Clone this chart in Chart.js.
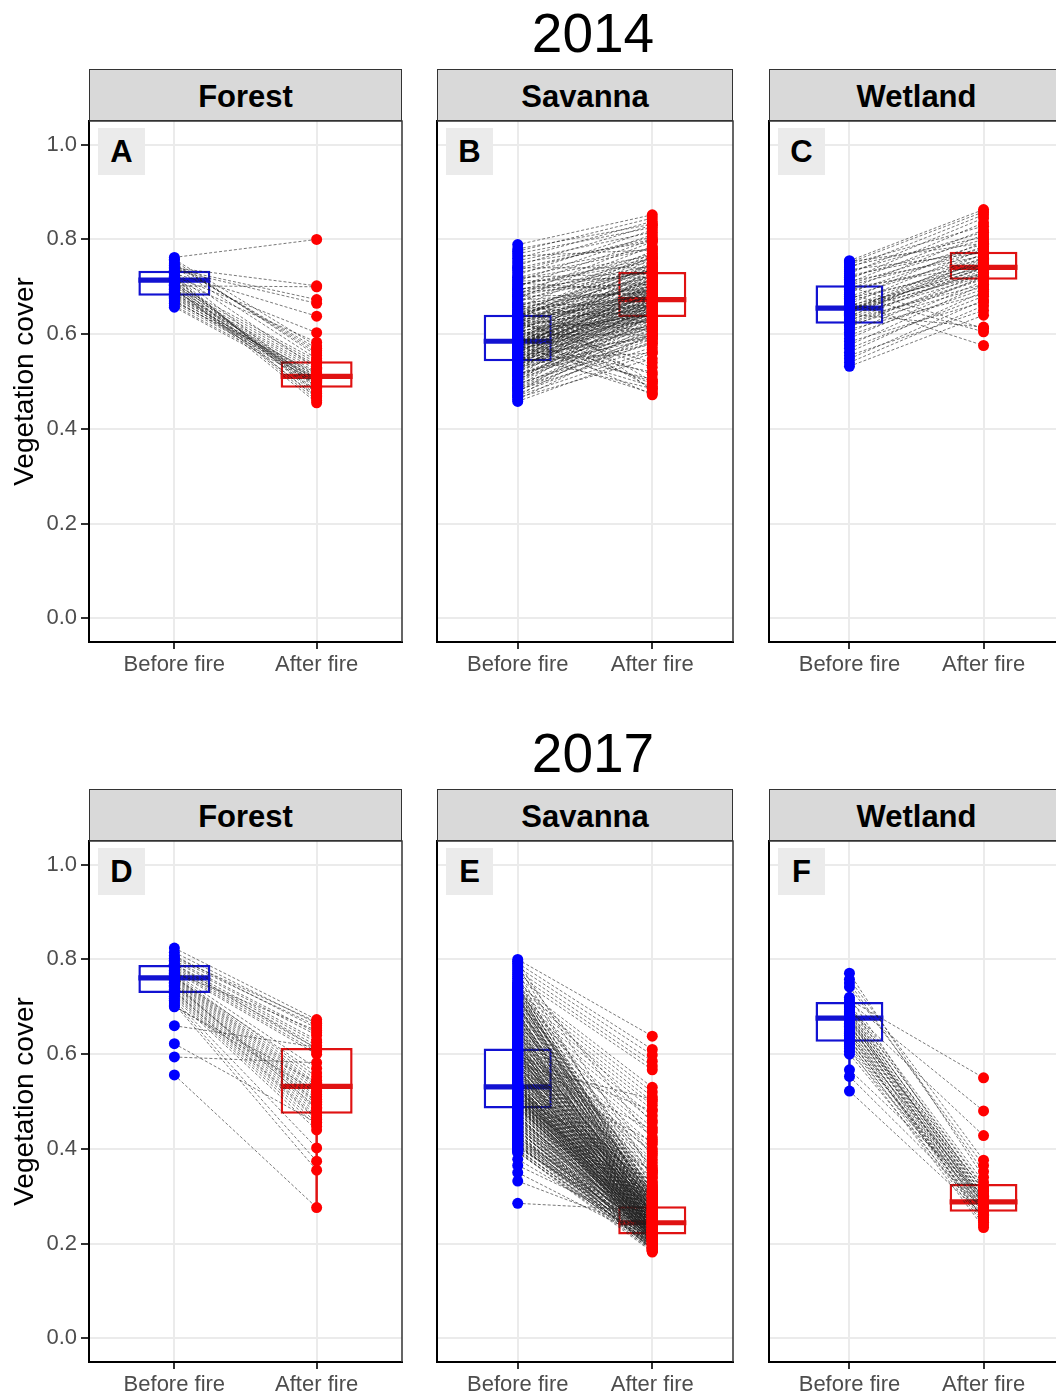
<!DOCTYPE html>
<html>
<head>
<meta charset="utf-8">
<script src="https://cdn.jsdelivr.net/npm/chart.js@4.4.1/dist/chart.umd.min.js"></script>
<style>
  body { margin: 0; width: 1056px; height: 1396px; overflow: hidden; background: #fff;
         font-family: "Liberation Sans", Arial, Helvetica, sans-serif; position: relative; }
  .year { position: absolute; width: 300px; text-align: center; font-size: 55px; line-height: 55px; color: #000; }
  .strip { position: absolute; height: 52px; box-sizing: border-box; border: 1.5px solid #333;
           background: #d9d9d9; display: flex; align-items: center; justify-content: center;
           padding-top: 3px; font-weight: bold; font-size: 31px; color: #000; }
  .tag { position: absolute; width: 47px; height: 47px; background: #ebebeb; display: flex;
         align-items: center; justify-content: center; font-weight: bold; font-size: 31px; color: #000; }
  canvas { position: absolute; }
</style>
</head>
<body>
<script>
// ---- data ----
const categories = ['Before fire', 'After fire'];
const yTicks = [0, 0.2, 0.4, 0.6, 0.8, 1.0];
const years = ['2014', '2017'];
const habitats = ['Forest', 'Savanna', 'Wetland'];
const tags = ['A', 'B', 'C', 'D', 'E', 'F'];

// each pair: [before fire, after fire] for one site
const forest2014 = [
  [0.762,0.800],[0.740,0.702],[0.702,0.700],[0.738,0.673],[0.735,0.665],[0.728,0.638],[0.722,0.603],[0.715,0.583],[0.745,0.570],[0.750,0.560],
  [0.755,0.555],[0.705,0.545],[0.700,0.540],[0.695,0.535],[0.690,0.530],[0.688,0.525],[0.685,0.520],[0.680,0.515],[0.675,0.512],[0.670,0.508],
  [0.665,0.505],[0.660,0.500],[0.657,0.495],[0.710,0.490],[0.712,0.485],[0.718,0.480],[0.720,0.475],[0.725,0.470],[0.708,0.465],[0.703,0.460],
  [0.698,0.455],[0.693,0.510],[0.683,0.506],[0.678,0.502],[0.672,0.498],[0.668,0.518],[0.732,0.528],[0.742,0.548],[0.748,0.565],[0.758,0.575],
  [0.730,0.492],[0.716,0.488],[0.706,0.478],[0.696,0.468],[0.686,0.503]
];
const savanna2014 = [
  [0.458,0.560],[0.462,0.600],[0.466,0.548],[0.470,0.620],[0.474,0.585],[0.478,0.640],[0.482,0.572],[0.486,0.610],[0.490,0.655],[0.494,0.595],
  [0.498,0.630],[0.502,0.668],[0.505,0.605],[0.508,0.645],[0.511,0.690],[0.514,0.625],[0.517,0.580],[0.520,0.660],[0.522,0.700],[0.524,0.615],
  [0.526,0.648],[0.528,0.675],[0.530,0.590],[0.532,0.712],[0.534,0.635],[0.536,0.665],[0.538,0.598],[0.540,0.680],[0.541,0.638],[0.542,0.720],
  [0.543,0.652],[0.544,0.612],[0.545,0.670],
  [0.546,0.642],[0.548,0.690],[0.550,0.628],[0.551,0.705],[0.553,0.660],[0.554,0.485],[0.556,0.676],[0.557,0.650],[0.559,0.730],[0.560,0.618],
  [0.562,0.695],[0.563,0.662],[0.565,0.475],[0.566,0.740],[0.568,0.640],[0.569,0.684],[0.570,0.655],[0.572,0.505],[0.573,0.712],[0.574,0.670],
  [0.575,0.632],[0.576,0.698],[0.577,0.745],[0.578,0.660],[0.579,0.520],[0.580,0.685],[0.581,0.650],[0.582,0.722],[0.583,0.676],[0.584,0.640],
  [0.584,0.700],[0.585,0.664],[0.585,0.755],
  [0.587,0.672],[0.589,0.705],[0.591,0.646],[0.593,0.735],[0.595,0.690],[0.597,0.472],[0.599,0.660],[0.601,0.718],[0.603,0.680],[0.605,0.750],
  [0.607,0.640],[0.609,0.700],[0.611,0.495],[0.613,0.726],[0.615,0.668],[0.617,0.760],[0.619,0.688],[0.621,0.652],[0.623,0.740],[0.625,0.530],
  [0.627,0.710],[0.629,0.676],[0.631,0.765],[0.633,0.694],[0.635,0.658],[0.636,0.728],[0.637,0.486],[0.638,0.745],[0.639,0.683],[0.640,0.712],
  [0.641,0.770],[0.641,0.660],[0.640,0.736],
  [0.644,0.702],[0.648,0.748],[0.652,0.680],[0.656,0.775],[0.660,0.720],[0.664,0.500],[0.668,0.760],[0.672,0.690],[0.676,0.785],[0.680,0.735],
  [0.684,0.795],[0.688,0.710],[0.692,0.770],[0.696,0.480],[0.700,0.800],[0.704,0.752],[0.708,0.690],[0.712,0.810],[0.716,0.765],[0.720,0.728],
  [0.725,0.820],[0.730,0.782],[0.735,0.805],[0.740,0.740],[0.745,0.830],[0.750,0.795],[0.755,0.815],[0.760,0.838],[0.765,0.778],[0.770,0.825],
  [0.775,0.845],[0.780,0.832],[0.789,0.852],
  [0.480,0.600],[0.488,0.625],[0.496,0.580],[0.504,0.650],[0.512,0.610],[0.520,0.635],[0.528,0.660],[0.536,0.620],[0.544,0.690],[0.552,0.645],
  [0.560,0.670],[0.568,0.630],[0.576,0.705],[0.584,0.655],[0.592,0.680],[0.600,0.640],[0.608,0.715],[0.616,0.665],[0.624,0.690],[0.632,0.650],
  [0.640,0.725],[0.648,0.675],[0.656,0.700],[0.664,0.660],[0.672,0.735],[0.680,0.685],[0.688,0.745],[0.696,0.705],[0.704,0.760],[0.712,0.720],
  [0.500,0.640],[0.515,0.600],[0.530,0.655],[0.545,0.615],[0.560,0.700],[0.575,0.645],[0.590,0.725],[0.605,0.660],[0.620,0.710],[0.635,0.672],
  [0.650,0.740],[0.665,0.690],[0.680,0.760],[0.695,0.730],[0.555,0.592],[0.570,0.618],[0.585,0.630],[0.600,0.598],[0.615,0.625],[0.630,0.608],
  [0.590,0.500],[0.610,0.515],[0.575,0.490],[0.625,0.540],[0.545,0.560],[0.660,0.625],[0.470,0.565],[0.485,0.590],[0.720,0.780],[0.740,0.800]
];
const wetland2014 = [
  [0.532,0.640],[0.540,0.660],[0.548,0.672],[0.555,0.650],[0.562,0.690],[0.570,0.680],[0.577,0.705],[0.584,0.668],[0.591,0.712],[0.598,0.695],
  [0.604,0.722],[0.610,0.685],[0.615,0.730],[0.619,0.700],[0.622,0.716],
  [0.625,0.718],[0.628,0.742],[0.631,0.705],[0.634,0.735],[0.637,0.760],[0.640,0.722],[0.642,0.615],[0.644,0.748],[0.646,0.730],[0.648,0.770],
  [0.650,0.740],[0.651,0.725],[0.652,0.755],[0.653,0.738],[0.655,0.745],
  [0.658,0.762],[0.661,0.728],[0.664,0.780],[0.667,0.576],[0.670,0.750],[0.673,0.795],[0.676,0.740],[0.680,0.768],[0.684,0.605],[0.688,0.785],
  [0.692,0.758],[0.695,0.810],[0.698,0.745],[0.700,0.612],[0.703,0.775],
  [0.706,0.790],[0.709,0.820],[0.712,0.765],[0.716,0.835],[0.720,0.800],[0.724,0.780],[0.728,0.845],[0.732,0.815],[0.736,0.772],[0.740,0.852],
  [0.744,0.805],[0.748,0.828],[0.751,0.858],[0.753,0.792],[0.755,0.863]
];
const forest2017 = [
  [0.824,0.673],[0.815,0.665],[0.808,0.655],[0.802,0.660],[0.798,0.645],[0.795,0.640],[0.790,0.630],[0.786,0.625],[0.783,0.618],[0.780,0.612],
  [0.777,0.605],[0.774,0.600],[0.771,0.570],[0.768,0.552],[0.765,0.545],[0.763,0.538],[0.761,0.533],[0.759,0.528],[0.757,0.522],[0.755,0.515],
  [0.752,0.510],[0.749,0.505],[0.746,0.500],[0.743,0.494],[0.740,0.488],[0.737,0.482],[0.734,0.476],[0.731,0.470],[0.728,0.462],[0.725,0.455],
  [0.722,0.448],[0.718,0.440],[0.714,0.402],[0.710,0.374],[0.706,0.355],[0.702,0.520],[0.700,0.540],[0.772,0.650],[0.762,0.560],[0.750,0.485],
  [0.745,0.498],[0.733,0.465],[0.790,0.612],[0.805,0.668],[0.660,0.615],[0.622,0.455],[0.594,0.582],[0.556,0.276]
];
const savanna2017 = [
  [0.800,0.638],[0.796,0.350],[0.792,0.610],[0.788,0.300],[0.784,0.598],[0.780,0.420],[0.776,0.585],[0.772,0.320],[0.768,0.575],[0.764,0.275],
  [0.760,0.567],[0.756,0.455],[0.752,0.340],[0.748,0.530],[0.744,0.290],[0.740,0.520],[0.736,0.385],[0.732,0.510],[0.728,0.310],[0.724,0.500],
  [0.720,0.268],[0.716,0.492],[0.712,0.360],[0.708,0.483],[0.704,0.295],[0.700,0.470],[0.696,0.330],[0.692,0.460],[0.688,0.262],[0.684,0.445],
  [0.680,0.305],[0.676,0.435],[0.672,0.282],[0.668,0.425],[0.664,0.345],[0.660,0.410],[0.656,0.258],[0.652,0.400],[0.648,0.315],[0.644,0.390],
  [0.640,0.272],[0.636,0.378],[0.632,0.288],[0.628,0.372],[0.624,0.252],[0.621,0.365],[0.618,0.298],[0.616,0.355],[0.614,0.266],[0.612,0.325],
  [0.610,0.302],[0.608,0.278],[0.606,0.338],[0.604,0.256],[0.602,0.292],[0.600,0.248],[0.598,0.318],[0.596,0.270],[0.594,0.284],[0.592,0.240],
  [0.590,0.308],[0.588,0.262],[0.586,0.276],[0.584,0.350],[0.582,0.254],[0.580,0.296],[0.578,0.244],[0.576,0.286],[0.574,0.266],[0.572,0.232],
  [0.570,0.312],[0.568,0.258],[0.566,0.274],[0.564,0.246],[0.562,0.290],[0.560,0.238],[0.558,0.280],[0.556,0.264],[0.554,0.252],[0.552,0.300],
  [0.550,0.242],[0.548,0.270],[0.546,0.236],[0.544,0.284],[0.542,0.260],[0.540,0.228],[0.539,0.278],[0.538,0.250],[0.537,0.294],[0.536,0.234],
  [0.535,0.268],[0.534,0.246],[0.533,0.256],[0.532,0.226],[0.531,0.272],[0.607,0.395],[0.597,0.480],[0.587,0.440],[0.577,0.505],[0.567,0.415],
  [0.530,0.262],[0.529,0.240],[0.528,0.225],[0.527,0.250],[0.526,0.232],[0.525,0.268],[0.524,0.218],[0.523,0.244],[0.522,0.256],[0.521,0.228],
  [0.520,0.236],[0.519,0.212],[0.518,0.248],[0.517,0.264],[0.516,0.222],[0.515,0.238],[0.514,0.252],[0.513,0.206],[0.512,0.242],[0.511,0.230],
  [0.510,0.258],[0.509,0.216],[0.508,0.246],[0.507,0.234],[0.506,0.220],[0.505,0.270],[0.504,0.226],[0.503,0.240],[0.502,0.210],[0.501,0.250],
  [0.500,0.236],[0.499,0.222],[0.498,0.244],[0.497,0.214],[0.496,0.228],[0.495,0.254],[0.494,0.218],[0.493,0.238],[0.492,0.204],[0.491,0.232],
  [0.490,0.246],[0.489,0.224],[0.488,0.212],[0.487,0.240],[0.486,0.230],[0.485,0.208],[0.527,0.280],[0.518,0.330],[0.508,0.355],[0.496,0.302],
  [0.484,0.236],[0.482,0.214],[0.480,0.228],[0.478,0.200],[0.476,0.222],[0.474,0.242],[0.472,0.206],[0.470,0.218],[0.468,0.196],[0.466,0.232],
  [0.464,0.210],[0.462,0.226],[0.460,0.190],[0.457,0.216],[0.454,0.204],[0.451,0.234],[0.448,0.198],[0.445,0.220],[0.442,0.188],[0.439,0.212],
  [0.436,0.226],[0.433,0.194],[0.430,0.208],[0.427,0.186],[0.424,0.218],[0.421,0.202],[0.418,0.230],[0.415,0.192],[0.412,0.214],[0.409,0.184],
  [0.406,0.206],[0.403,0.222],[0.400,0.190],[0.397,0.200],[0.394,0.182],[0.392,0.196],[0.378,0.210],[0.365,0.230],[0.350,0.205],[0.332,0.224],
  [0.285,0.270],[0.470,0.212],[0.455,0.194],[0.440,0.202],[0.425,0.188],[0.410,0.198],[0.462,0.220],[0.447,0.186],[0.432,0.208],[0.417,0.192],
  [0.750,0.310],[0.746,0.282],[0.742,0.300],[0.738,0.268],[0.734,0.292],[0.730,0.276],[0.726,0.305],[0.722,0.262],[0.718,0.288],[0.714,0.272],
  [0.710,0.296],[0.706,0.258],[0.702,0.284],[0.698,0.270],[0.694,0.300],[0.690,0.250],[0.686,0.278],[0.682,0.264],[0.678,0.290],[0.674,0.256],
  [0.670,0.274],[0.666,0.248],[0.662,0.286],[0.658,0.262],[0.654,0.240],[0.650,0.270],[0.646,0.254],[0.642,0.280],[0.638,0.244],[0.634,0.266],
  [0.630,0.236],[0.626,0.258],[0.622,0.276],[0.619,0.242],[0.615,0.262],[0.611,0.230],[0.607,0.250],[0.603,0.268],[0.599,0.238],[0.595,0.256],
  [0.591,0.226],[0.587,0.246],[0.583,0.264],[0.579,0.234],[0.575,0.252],[0.571,0.222],[0.567,0.242],[0.563,0.260],[0.559,0.230],[0.555,0.248],
  [0.551,0.218],[0.547,0.238],[0.543,0.256],[0.539,0.226],[0.535,0.244],[0.531,0.214],[0.527,0.234],[0.523,0.252],[0.519,0.222],[0.515,0.240],
  [0.511,0.210],[0.507,0.230],[0.503,0.248],[0.499,0.218],[0.495,0.236],[0.491,0.206],[0.487,0.226],[0.483,0.244],[0.479,0.214],[0.475,0.232],
  [0.471,0.202],[0.467,0.222],[0.463,0.240],[0.459,0.210],[0.455,0.228],[0.451,0.198],[0.447,0.218],[0.443,0.236],[0.439,0.206],[0.435,0.224],
  [0.431,0.194],[0.427,0.214],[0.423,0.232],[0.419,0.202],[0.415,0.220],[0.411,0.190],[0.407,0.210],[0.403,0.228],[0.399,0.198],[0.395,0.186],
  [0.720,0.322],[0.700,0.315],[0.680,0.232],[0.660,0.228],[0.640,0.310],[0.620,0.220],[0.600,0.305],[0.580,0.216],[0.560,0.296],[0.540,0.212],
  [0.690,0.240],[0.670,0.300],[0.650,0.226],[0.630,0.290],[0.610,0.214],[0.590,0.284],[0.570,0.206],[0.550,0.278],[0.530,0.200],[0.510,0.272],
  [0.740,0.252],[0.725,0.240],[0.705,0.232],[0.685,0.222],[0.665,0.216],[0.645,0.204],[0.625,0.198],[0.605,0.192],[0.585,0.188],[0.565,0.184]
];
const wetland2017 = [
  [0.771,0.340],[0.758,0.376],[0.750,0.352],[0.742,0.365],[0.720,0.300],[0.715,0.550],[0.710,0.480],[0.706,0.330],[0.702,0.318],[0.698,0.295],
  [0.694,0.428],[0.690,0.310],[0.686,0.288],[0.683,0.302],[0.680,0.280],[0.677,0.292],[0.674,0.270],[0.671,0.285],[0.668,0.305],[0.665,0.262],
  [0.662,0.276],[0.659,0.315],[0.656,0.250],[0.652,0.290],[0.648,0.268],[0.644,0.282],[0.640,0.245],[0.636,0.298],[0.632,0.258],[0.628,0.275],
  [0.624,0.240],[0.620,0.286],[0.616,0.265],[0.612,0.234],[0.606,0.278],[0.600,0.255],[0.567,0.300],[0.553,0.272],[0.522,0.260],[0.700,0.322],
  [0.688,0.312],[0.675,0.295],[0.660,0.284],[0.645,0.250],[0.630,0.268]
];

// box stats: [lower whisker, Q1, median, Q3, upper whisker] for before / after
const forest2014Box  = [[0.655,0.681,0.714,0.734,0.762],[0.455,0.487,0.511,0.543,0.583]];
const savanna2014Box = [[0.458,0.543,0.585,0.641,0.789],[0.495,0.636,0.673,0.731,0.852]];
const wetland2014Box = [[0.532,0.622,0.655,0.703,0.755],[0.640,0.715,0.741,0.774,0.863]];
const forest2017Box  = [[0.700,0.729,0.761,0.788,0.824],[0.276,0.474,0.532,0.613,0.673]];
const savanna2017Box = [[0.332,0.485,0.531,0.612,0.800],[0.182,0.219,0.244,0.279,0.365]];
const wetland2017Box = [[0.522,0.626,0.676,0.710,0.771],[0.234,0.267,0.288,0.326,0.376]];

const panelData = [
  [forest2014, forest2014Box], [savanna2014, savanna2014Box], [wetland2014, wetland2014Box],
  [forest2017, forest2017Box], [savanna2017, savanna2017Box], [wetland2017, wetland2017Box]
];

// ---- layout ----
const colLeft = [89, 437, 769];
const colWidth = [313, 296, 295];
const rowTop = [121, 841];
const areaH = 521;
const yAxisW = 89;
const xAxisH = 50;
const pointColors = ['#0000ff', '#ff0000'];
const boxColors = ['#1212d2', '#e01212'];

Chart.defaults.font.family = '"Liberation Sans", Arial, Helvetica, sans-serif';

// top and right edges of the panel frame
const frameEdges = {
  id: 'frameEdges',
  afterDatasetsDraw(chart) {
    const a = chart.chartArea, c = chart.ctx;
    c.save();
    c.strokeStyle = '#333333';
    c.lineWidth = 1.5;
    c.beginPath();
    c.moveTo(a.left, a.top);
    c.lineTo(a.right, a.top);
    c.lineTo(a.right, a.bottom);
    c.stroke();
    c.restore();
  }
};

function addDiv(cls, text, left, top, width) {
  const d = document.createElement('div');
  d.className = cls;
  d.textContent = text;
  d.style.left = left + 'px';
  d.style.top = top + 'px';
  if (width) d.style.width = width + 'px';
  document.body.appendChild(d);
}

addDiv('year', years[0], 443, 5.6);
addDiv('year', years[1], 443, 726.1);

function buildDatasets(pairs, box) {
  const ds = [];
  ds.push({
    type: 'scatter', order: 0,
    data: pairs.map(p => ({ x: 1, y: p[0] })),
    pointRadius: 5.5, pointBorderWidth: 0, pointBackgroundColor: pointColors[0]
  });
  ds.push({
    type: 'scatter', order: 0,
    data: pairs.map(p => ({ x: 2, y: p[1] })),
    pointRadius: 5.5, pointBorderWidth: 0, pointBackgroundColor: pointColors[1]
  });
  pairs.forEach(p => {
    ds.push({
      type: 'line', order: 1,
      data: [{ x: 1, y: p[0] }, { x: 2, y: p[1] }],
      borderColor: 'rgba(30,30,30,0.8)', borderWidth: 0.75, borderDash: [3, 2],
      pointRadius: 0, tension: 0
    });
  });
  // whiskers
  ds.push({
    type: 'bar', order: 2, grouped: false, maxBarThickness: 2.5,
    data: box.map((b, i) => ({ x: i + 1, y: [b[0], b[1]] })),
    backgroundColor: boxColors
  });
  ds.push({
    type: 'bar', order: 2, grouped: false, maxBarThickness: 2.5,
    data: box.map((b, i) => ({ x: i + 1, y: [b[3], b[4]] })),
    backgroundColor: boxColors
  });
  // median
  ds.push({
    type: 'bar', order: 2, grouped: false, categoryPercentage: 1, barPercentage: 0.506,
    data: box.map((b, i) => ({ x: i + 1, y: [b[2] - 0.0055, b[2] + 0.0055] })),
    backgroundColor: boxColors
  });
  // box
  ds.push({
    type: 'bar', order: 3, grouped: false, categoryPercentage: 1, barPercentage: 0.506,
    data: box.map((b, i) => ({ x: i + 1, y: [b[1], b[3]] })),
    backgroundColor: '#ffffff', borderColor: boxColors, borderWidth: 2.5, borderSkipped: false
  });
  return ds;
}

panelData.forEach((pd, idx) => {
  const row = Math.floor(idx / 3), col = idx % 3;
  const showY = col === 0;
  const left = showY ? 0 : colLeft[col] - 2;
  const padLeft = showY ? 0 : 2;
  const width = (showY ? yAxisW : 0) + padLeft + colWidth[col] + 2;
  const top = rowTop[row] - 2;
  const height = 2 + areaH + xAxisH;

  addDiv('strip', habitats[col], colLeft[col], rowTop[row] - 52, colWidth[col]);

  const canvas = document.createElement('canvas');
  canvas.width = width;
  canvas.height = height;
  canvas.style.left = left + 'px';
  canvas.style.top = top + 'px';
  canvas.style.width = width + 'px';
  canvas.style.height = height + 'px';
  document.body.appendChild(canvas);

  addDiv('tag', tags[idx], colLeft[col] + 9, rowTop[row] + 7);

  new Chart(canvas.getContext('2d'), {
    type: 'scatter',
    data: { datasets: buildDatasets(pd[0], pd[1]) },
    plugins: [frameEdges],
    options: {
      responsive: false,
      animation: false,
      events: [],
      layout: { autoPadding: false, padding: { left: padLeft, top: 2, right: 2, bottom: 0 } },
      plugins: { legend: { display: false }, tooltip: { enabled: false } },
      scales: {
        x: {
          type: 'linear', min: 0.4, max: 2.6, offset: false,
          afterBuildTicks: s => { s.ticks = [1, 2].map(v => ({ value: v })); },
          ticks: {
            callback: v => categories[v - 1], color: '#4d4d4d',
            font: { size: 22 }, padding: 3, maxRotation: 0, autoSkip: false
          },
          grid: { color: '#ebebeb', lineWidth: 2, offset: false, tickLength: 7, tickColor: '#333333', tickWidth: 2 },
          border: { color: '#000000', width: 2 },
          afterFit: s => { s.height = xAxisH; s.paddingLeft = 0; s.paddingRight = 0; }
        },
        y: {
          type: 'linear', min: -0.05, max: 1.05,
          afterBuildTicks: s => { s.ticks = yTicks.map(v => ({ value: v })); },
          ticks: {
            display: showY, callback: v => v.toFixed(1), color: '#4d4d4d',
            font: { size: 22 }, padding: 4
          },
          grid: { color: '#ebebeb', lineWidth: 2, drawTicks: showY, tickLength: 8, tickColor: '#333333', tickWidth: 2 },
          border: { color: '#000000', width: 2 },
          title: {
            display: showY, text: 'Vegetation cover', color: '#000000',
            font: { size: 28 }, padding: { top: 8, bottom: 0 }
          },
          afterFit: s => { s.width = showY ? yAxisW : 0; s.paddingTop = 0; s.paddingBottom = 0; }
        }
      }
    }
  });
});
</script>
</body>
</html>
